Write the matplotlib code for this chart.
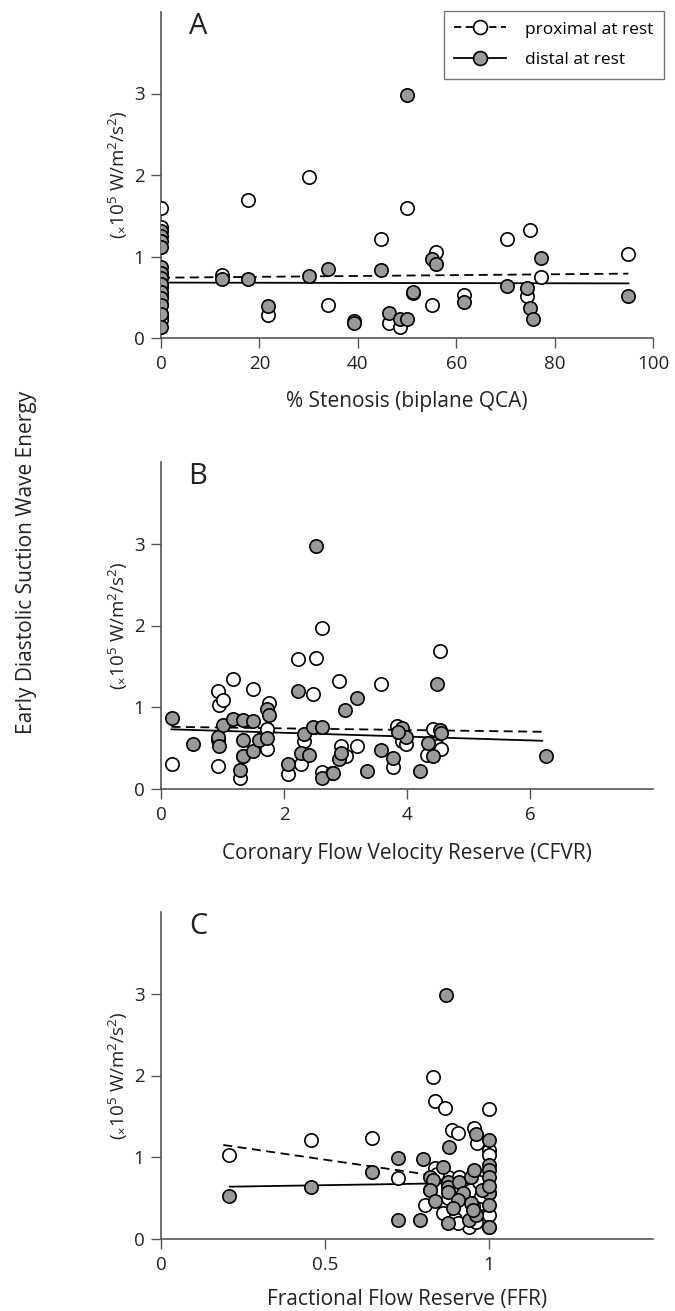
import numpy as np
import matplotlib
matplotlib.use("Agg")
import matplotlib.pyplot as plt
from matplotlib.lines import Line2D

plt.rcParams['font.family'] = ['Open Sans', 'DejaVu Sans']
plt.rcParams['mathtext.fontset'] = 'custom'
plt.rcParams['mathtext.rm'] = 'Open Sans'
plt.rcParams['mathtext.it'] = 'Open Sans'

# ---- data (energy in x10^5 W/m^2/s^2) ----
# Panel A: % stenosis
prox_A_x = [0, 0, 0, 0, 0, 0, 0, 0, 0,
            12.4, 17.6, 21.8, 30.0, 33.9, 39.2, 44.7, 46.4, 48.5, 50.0,
            51.3, 55.1, 55.9, 61.6, 70.3, 74.4, 75.1, 77.3, 95.0]
prox_A_y = [1.60, 1.36, 0.80, 0.62, 0.52, 0.42, 0.30, 0.27, 0.22,
            0.77, 1.69, 0.28, 1.98, 0.40, 0.21, 1.22, 0.18, 0.135, 1.60,
            0.55, 0.41, 1.06, 0.53, 1.21, 0.52, 1.33, 0.745, 1.03]
dist_A_x = [0, 0, 0, 0, 0, 0, 0, 0, 0, 0, 0, 0, 0,
            12.4, 17.6, 21.8, 30.0, 33.9, 39.2, 44.7, 46.4, 48.5, 50.0, 50.0,
            51.3, 55.1, 55.9, 61.6, 70.3, 74.4, 75.1, 75.7, 77.3, 95.0]
dist_A_y = [1.31, 1.25, 1.19, 1.12, 0.87, 0.80, 0.74, 0.66, 0.57, 0.49, 0.40, 0.30, 0.14,
            0.72, 0.73, 0.39, 0.76, 0.85, 0.19, 0.83, 0.31, 0.23, 2.98, 0.23,
            0.56, 0.97, 0.91, 0.44, 0.64, 0.61, 0.37, 0.23, 0.98, 0.52]

# Panel B: CFVR
prox_B_x = [0.18, 0.92, 0.95, 1.01, 0.92, 1.17, 1.49, 1.75, 1.72, 1.72,
            1.29, 1.33, 0.92, 2.22, 2.52, 2.47, 2.62, 2.33, 2.28, 2.07,
            2.62, 2.90, 2.92, 3.00, 3.18, 3.57, 3.78, 3.84, 3.92, 3.98,
            4.43, 4.53, 4.33, 4.48, 4.55, 2.78]
prox_B_y = [0.30, 1.20, 1.03, 1.09, 0.28, 1.35, 1.22, 1.05, 0.74, 0.49,
            0.14, 0.40, 0.60, 1.59, 1.60, 1.16, 1.97, 0.59, 0.31, 0.18,
            0.21, 1.32, 0.52, 0.40, 0.53, 1.29, 0.27, 0.77, 0.59, 0.55,
            0.74, 1.69, 0.42, 0.52, 0.49, 0.20]
dist_B_x = [0.18, 0.52, 0.92, 0.95, 1.01, 1.17, 1.33, 1.33, 1.33, 1.29,
            1.49, 1.50, 1.59, 1.72, 1.75, 1.72, 2.07, 2.22, 2.28, 2.41,
            2.33, 2.47, 2.62, 2.52, 2.62, 2.80, 2.90, 2.92, 2.99, 3.18,
            3.35, 3.57, 3.78, 3.92, 3.98, 3.85, 4.21, 4.34, 4.43, 4.48,
            4.53, 4.55, 6.26]
dist_B_y = [0.87, 0.55, 0.64, 0.52, 0.78, 0.86, 0.84, 0.60, 0.40, 0.23,
            0.83, 0.46, 0.60, 0.98, 0.90, 0.62, 0.31, 1.20, 0.44, 0.42,
            0.67, 0.76, 0.76, 2.97, 0.14, 0.19, 0.37, 0.44, 0.97, 1.11,
            0.22, 0.48, 0.38, 0.75, 0.63, 0.70, 0.22, 0.56, 0.40, 1.29,
            0.72, 0.69, 0.40]

# Panel C: FFR
prox_C_x = [0.208, 0.457, 0.642, 0.723, 0.829, 0.835, 0.867, 1.0, 0.887, 0.905,
            0.953, 0.963, 1.0, 1.0, 0.834, 0.875, 0.82, 0.806, 0.86, 0.88,
            0.895, 0.94, 0.96, 0.945, 0.98, 1.0, 1.0, 1.0, 0.91, 0.97,
            0.975, 0.905, 0.84, 0.875, 0.875, 0.95]
prox_C_y = [1.03, 1.21, 1.23, 0.75, 1.98, 1.69, 1.60, 1.59, 1.33, 1.30,
            1.36, 1.17, 1.09, 1.03, 0.87, 0.76, 0.60, 0.42, 0.32, 0.52,
            0.25, 0.15, 0.21, 0.60, 0.44, 0.29, 0.15, 0.56, 0.76, 0.70,
            0.52, 0.19, 0.80, 0.68, 0.50, 0.40]
dist_C_x = [0.208, 0.457, 0.642, 0.723, 0.723, 0.79, 0.80, 0.87, 0.878, 0.96,
            1.0, 1.0, 1.0, 1.0, 1.0, 1.0, 1.0, 0.86, 0.82, 0.83,
            0.82, 0.835, 0.875, 0.875, 0.875, 0.91, 0.92, 0.905, 0.89, 0.875,
            0.94, 0.945, 0.96, 0.945, 0.953, 0.98, 1.0, 0.95]
dist_C_y = [0.52, 0.64, 0.82, 0.99, 0.23, 0.23, 0.98, 2.98, 1.12, 1.29,
            1.21, 0.91, 0.85, 0.76, 0.56, 0.42, 0.15, 0.88, 0.76, 0.72,
            0.60, 0.47, 0.70, 0.64, 0.58, 0.70, 0.56, 0.48, 0.38, 0.20,
            0.23, 0.44, 0.29, 0.76, 0.85, 0.60, 0.65, 0.35]

# regression lines (end points)
fit_A = {'px': [0, 95], 'py': [0.74, 0.79], 'dx': [0, 95], 'dy': [0.68, 0.67]}
fit_B = {'px': [0.17, 6.2], 'py': [0.76, 0.70], 'dx': [0.17, 6.2], 'dy': [0.73, 0.59]}
fit_C = {'px': [0.19, 1.0], 'py': [1.15, 0.68], 'dx': [0.21, 1.0], 'dy': [0.64, 0.69]}

panels = [
    ('A', prox_A_x, prox_A_y, dist_A_x, dist_A_y, fit_A, (0, 100), [0, 20, 40, 60, 80, 100],
     ['0', '20', '40', '60', '80', '100'], '% Stenosis (biplane QCA)'),
    ('B', prox_B_x, prox_B_y, dist_B_x, dist_B_y, fit_B, (0, 8), [0, 2, 4, 6],
     ['0', '2', '4', '6'], 'Coronary Flow Velocity Reserve (CFVR)'),
    ('C', prox_C_x, prox_C_y, dist_C_x, dist_C_y, fit_C, (0, 1.5), [0, 0.5, 1],
     ['0', '0.5', '1'], 'Fractional Flow Reserve (FFR)'),
]

W, H = 675, 1311
fig = plt.figure(figsize=(W / 100, H / 100), dpi=100)

# axes boxes in pixels: (top, bottom)
boxes = [(12, 338), (462, 789), (912, 1239)]
xlab_y = [402, 853, 1299]
left_px, right_px = 161, 653
spine_col = '#555555'
txt_col = '#222222'
gray = '#9a9a9a'

for (letter, px_, py_, dx_, dy_, fit, xlim, xt, xtl, xlabel), (top, bot), xly in zip(panels, boxes, xlab_y):
    ax = fig.add_axes([left_px / W, 1 - bot / H, (right_px - left_px) / W, (bot - top) / H])
    ax.plot(fit['px'], fit['py'], color='black', lw=1.3, ls=(0, (5, 3)), zorder=2)
    ax.plot(fit['dx'], fit['dy'], color='black', lw=1.3, ls='-', zorder=2)
    ax.scatter(px_, py_, s=92, facecolor='white', edgecolor='black', linewidth=1.2, zorder=3)
    ax.scatter(dx_, dy_, s=92, facecolor=gray, edgecolor='black', linewidth=1.2, zorder=4)
    ax.set_xlim(*xlim)
    ax.set_ylim(0, 4)
    ax.set_xticks(xt)
    ax.set_xticklabels(xtl)
    ax.set_yticks([0, 1, 2, 3])
    ax.set_yticklabels(['0', '1', '2', '3'])
    for s in ['top', 'right']:
        ax.spines[s].set_visible(False)
    for s in ['left', 'bottom']:
        ax.spines[s].set_color(spine_col)
        ax.spines[s].set_linewidth(1.2)
    ax.tick_params(direction='out', length=7, width=1.0, color=spine_col,
                   labelsize=13.5, labelcolor=txt_col, pad=5)
    ax.text(0.075, 0.955, letter, transform=ax.transAxes, fontsize=21,
            ha='center', va='center', color=txt_col)
    fig.text((left_px + right_px) / 2 / W, 1 - xly / H, xlabel, ha='center', va='center',
             fontsize=15, color=txt_col)
    fig.text(118 / W, 1 - (top + bot) / 2 / H, r'($_{\times}$10$^5$ W/m$^2$/s$^2$)',
             rotation=90, ha='center', va='center', fontsize=13.5, color=txt_col)
    if letter == 'A':
        handles = [
            Line2D([], [], color='black', ls=(0, (4, 2.5)), lw=1.3, marker='o', ms=10,
                   mfc='white', mec='black', mew=1.2),
            Line2D([], [], color='black', ls='-', lw=1.3, marker='o', ms=10,
                   mfc=gray, mec='black', mew=1.2),
        ]
        leg = fig.legend(handles, ['proximal at rest', 'distal at rest'],
                         loc='upper right', bbox_to_anchor=(664 / W, 1 - 11 / H),
                         fontsize=12.5, frameon=True, fancybox=False, handlelength=3.0,
                         borderpad=0.6, labelspacing=0.85, handletextpad=1.1, borderaxespad=0)
        leg.get_frame().set_edgecolor('#555555')
        leg.get_frame().set_linewidth(1.0)

fig.text(27 / W, 1 - 562 / H, 'Early Diastolic Suction Wave Energy', rotation=90,
         ha='center', va='center', fontsize=15, color=txt_col)

fig.savefig('out.png', dpi=100)
